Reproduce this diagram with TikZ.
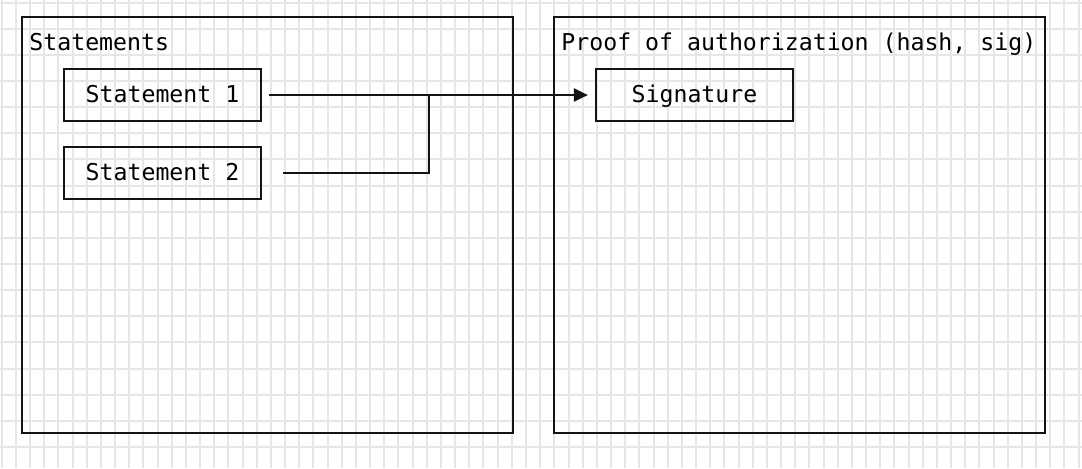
\documentclass[tikz,border=0pt]{standalone}
\usepackage{fontspec}
\usepackage{tikz}
\usetikzlibrary{arrows.meta,positioning}
\newfontfamily\codefont{DejaVu Sans Mono}
\definecolor{GridGray}{RGB}{230,230,230}
\definecolor{InkBlack}{RGB}{20,20,20}
\newcommand{\boxfont}{\codefont\fontsize{11.6pt}{14pt}\selectfont}
\tikzset{
  panel/.style={draw=InkBlack,line width=1.1pt},
  paneltitle/.style={anchor=base west,inner sep=0pt,font=\boxfont},
  itembox/.style={draw=InkBlack,line width=1.1pt,inner sep=0pt,
    minimum width=98.5pt,minimum height=26pt,
    text height=8.5pt,text depth=1.5pt,font=\boxfont},
  wire/.style={draw=InkBlack,line width=1.1pt},
}

\begin{document}
\begin{tikzpicture}[x=0.5pt,y=-0.5pt]
  \fill[white] (0,0) rectangle (1082,468);
  \useasboundingbox (0,0) rectangle (1082,468);
  % background grid
  \foreach \i in {0,...,76}
    \draw[GridGray,line width=1pt] ({1.7+\i*14.17},0)--++(0,468);
  \foreach \j in {0,...,17}
    \draw[GridGray,line width=1pt] (0,{2.5+\j*26.15})--++(1082,0);
  % the two panels
  \draw[panel] (22,17) rectangle (513,433);
  \draw[panel] (554,17) rectangle (1045,433);
  \node[paneltitle] (stmts) at (29,50) {Statements};
  \node[paneltitle] (proof) at (561,50) {Proof of authorization (hash, sig)};
  \node[itembox] (s1) at (162.5,95) {Statement 1};
  \node[itembox] (s2) at (162.5,173) {Statement 2};
  \node[itembox] (sig) at (694.5,95) {Signature};
  \coordinate (join) at (429,95);
  \draw[wire,-{Triangle[length=7pt,width=6.5pt]}] ([xshift=3.5pt]s1.east)--([xshift=-3.5pt]sig.west);
  \draw[wire] ([xshift=10.5pt]s2.east)-|(join);
\end{tikzpicture}
\end{document}
